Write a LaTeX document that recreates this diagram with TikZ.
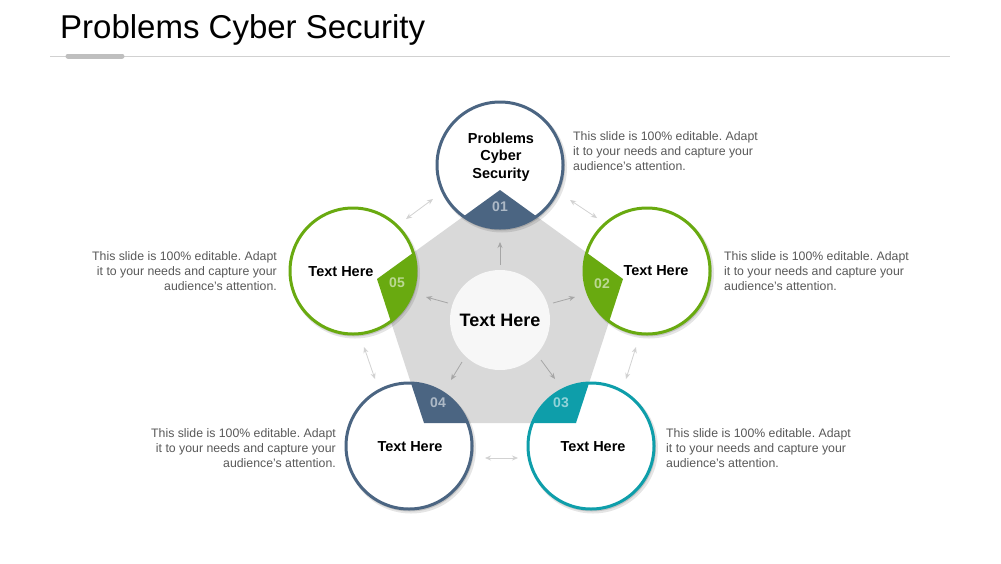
\documentclass[tikz,border=0pt]{standalone}
\usepackage{fontspec}
\setmainfont{Liberation Sans}
\usetikzlibrary{arrows.meta}
\frenchspacing
\definecolor{slate}{HTML}{4B6582}
\definecolor{leaf}{HTML}{69AA10}
\definecolor{teal2}{HTML}{0E9EAA}
\definecolor{penta}{HTML}{D9D9D9}
\definecolor{desc}{HTML}{595959}
\definecolor{arr}{HTML}{A6A6A6}
\definecolor{darr}{HTML}{D2D2D2}
\tikzset{
  ring/.style={circle, minimum size=126pt, inner sep=0pt, line width=3pt, draw=#1},
  numlbl/.style={font=\fontsize{14}{16}\selectfont\bfseries, text=white, text opacity=0.55, inner sep=0pt},
  ctext/.style={font=\fontsize{14.5}{17.5}\selectfont\bfseries, align=center, inner sep=0pt},
  desctext/.style={font=\fontsize{12.3}{15}\selectfont, text=desc, inner sep=0pt},
  outarrow/.style={draw=arr, line width=0.8pt, -{Stealth[length=6pt,width=5pt]}},
  duoarrow/.style={draw=darr, line width=0.8pt, {Stealth[length=6pt,width=5pt]}-{Stealth[length=6pt,width=5pt]}},
  shade1/.style={fill=black, opacity=0.10},
  shade2/.style={fill=black, opacity=0.14}
}
\begin{document}
\begin{tikzpicture}[x=1pt,y=-1pt]
\useasboundingbox (0,0) rectangle (1001,563);
\fill[white] (0,0) rectangle (1001,563);
% title
\node[anchor=base west, inner sep=0pt, font=\fontsize{33}{36}\selectfont] (title) at (60,38.5) {Problems Cyber Security};
\coordinate (ruleL) at (50,56);
\coordinate (ruleR) at (950,56);
\coordinate (barL) at (68,56);
\coordinate (barR) at (122,56);
\draw[draw=black!18, line width=0.8pt] (ruleL) -- (ruleR);
\draw[draw=black!25, line width=5pt, line cap=round] (barL) -- (barR);
% pentagon
\coordinate (p1) at (500,190);
\coordinate (p2) at (623,279);
\coordinate (p3) at (576,423);
\coordinate (p4) at (424,423);
\coordinate (p5) at (377,279);
\fill[penta] (p1) -- (p2) -- (p3) -- (p4) -- (p5) -- cycle;
% circle centres
\coordinate (o1) at (500,165);
\coordinate (o2) at (647,271);
\coordinate (o3) at (591,446);
\coordinate (o4) at (409,446);
\coordinate (o5) at (353,271);
% shadows and white discs
\foreach \o in {o1,o2,o3,o4,o5}{
  \fill[shade1] ([shift={(2,2.5)}]\o) circle[radius=65];
  \fill[shade2] ([shift={(1,1.5)}]\o) circle[radius=64];
  \fill[white] (\o) circle[radius=63];
}
% wedges
\foreach \o/\c in {o1/slate,o2/leaf,o3/teal2,o4/slate,o5/leaf}{
  \begin{scope}
    \clip (\o) circle[radius=63];
    \fill[\c] (p1) -- (p2) -- (p3) -- (p4) -- (p5) -- cycle;
  \end{scope}
}
% rings
\node[ring=slate] (c1) at (o1) {};
\node[ring=leaf] (c2) at (o2) {};
\node[ring=teal2] (c3) at (o3) {};
\node[ring=slate] (c4) at (o4) {};
\node[ring=leaf] (c5) at (o5) {};
% numbers
\node[numlbl] (n1) at (500,207) {01};
\node[numlbl] (n2) at (602,284) {02};
\node[numlbl] (n3) at (561,403) {03};
\node[numlbl] (n4) at (438,403) {04};
\node[numlbl] (n5) at (397,283) {05};
% circle texts
\node[ctext] (t1) at (501,157) {Problems\\Cyber\\Security};
\node[ctext] (t2) at (656,271) {Text Here};
\node[ctext] (t3) at (593,447) {Text Here};
\node[ctext] (t4) at (410,447) {Text Here};
\node[ctext] (t5) at (341,272) {Text Here};
% centre
\node[circle, minimum size=100pt, inner sep=0pt, fill=black!3, font=\fontsize{18}{20}\selectfont\bfseries] (ctr) at (500,320) {Text Here};
% centre arrows
\coordinate (u0) at (500,265); \coordinate (u1) at (500,242);
\coordinate (r0) at (553,303); \coordinate (r1) at (575,297);
\coordinate (dr0) at (541,360); \coordinate (dr1) at (555,379);
\coordinate (dl0) at (462,362); \coordinate (dl1) at (451,380);
\coordinate (l0) at (448,303); \coordinate (l1) at (426,297);
\draw[outarrow] (u0) -- (u1);
\draw[outarrow] (r0) -- (r1);
\draw[outarrow] (dr0) -- (dr1);
\draw[outarrow] (dl0) -- (dl1);
\draw[outarrow] (l0) -- (l1);
% arrows between circles
\coordinate (a12a) at (570,200); \coordinate (a12b) at (597,218);
\coordinate (a23a) at (636,347); \coordinate (a23b) at (626,379);
\coordinate (a34a) at (485,458); \coordinate (a34b) at (518,458);
\coordinate (a45a) at (375,379); \coordinate (a45b) at (364,347);
\coordinate (a51a) at (406,219); \coordinate (a51b) at (433,199);
\draw[duoarrow] (a12a) -- (a12b);
\draw[duoarrow] (a23a) -- (a23b);
\draw[duoarrow] (a34a) -- (a34b);
\draw[duoarrow] (a45a) -- (a45b);
\draw[duoarrow] (a51a) -- (a51b);
% descriptions (base anchor = last line)
\node[desctext, anchor=base west, align=left] (d1) at (573,170) {This slide is 100\% editable. Adapt\\it to your needs and capture your\\audience's attention.};
\node[desctext, anchor=base west, align=left] (d2) at (724,290) {This slide is 100\% editable. Adapt\\it to your needs and capture your\\audience's attention.};
\node[desctext, anchor=base west, align=left] (d3) at (666,467) {This slide is 100\% editable. Adapt\\it to your needs and capture your\\audience's attention.};
\node[desctext, anchor=base east, align=right] (d4) at (336,467) {This slide is 100\% editable. Adapt\\it to your needs and capture your\\audience's attention.};
\node[desctext, anchor=base east, align=right] (d5) at (277,290) {This slide is 100\% editable. Adapt\\it to your needs and capture your\\audience's attention.};
\end{tikzpicture}
\end{document}
